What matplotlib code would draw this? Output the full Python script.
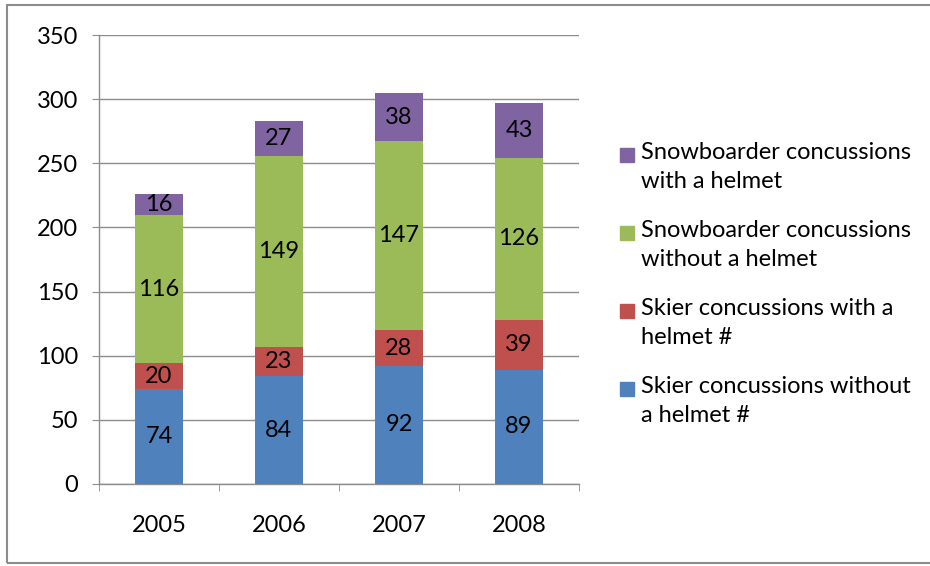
import matplotlib
matplotlib.use("Agg")
import matplotlib.pyplot as plt
from matplotlib.patches import Rectangle

# --- data ---
years = ["2005", "2006", "2007", "2008"]
skier_no_helmet = [74, 84, 92, 89]
skier_helmet = [20, 23, 28, 39]
snow_no_helmet = [116, 149, 147, 126]
snow_helmet = [16, 27, 38, 43]

series_names = [
    "Skier concussions without\na helmet #",
    "Skier concussions with a\nhelmet #",
    "Snowboarder concussions\nwithout a helmet",
    "Snowboarder concussions\nwith a helmet",
]
series_vals = [skier_no_helmet, skier_helmet, snow_no_helmet, snow_helmet]
colors = ["#4F81BD", "#C0504D", "#9BBB59", "#8064A2"]

plt.rcParams["font.family"] = ["Lato", "DejaVu Sans"]
FS = 17

fig = plt.figure(figsize=(9.3, 5.66), dpi=100)
ax = fig.add_axes([99 / 930, 1 - 484 / 566, 480 / 930, 449 / 566])

# outer frame
fig.patches.append(Rectangle((7 / 930, 3 / 566), 1.0, 558 / 566, transform=fig.transFigure,
                             fill=False, edgecolor="#8c8c8c", linewidth=1.5))

x = range(len(years))
bottoms = [0] * len(years)
for vals, c in zip(series_vals, colors):
    bars = ax.bar(x, vals, bottom=bottoms, width=0.4, color=c, zorder=3)
    for b, v, btm in zip(bars, vals, bottoms):
        ax.text(b.get_x() + b.get_width() / 2, btm + v / 2, str(v),
                ha="center", va="center", fontsize=FS, color="black", zorder=4)
    bottoms = [b + v for b, v in zip(bottoms, vals)]

ax.set_xlim(-0.5, 3.5)
ax.set_ylim(0, 350)
ax.set_yticks(range(0, 351, 50))
ax.set_xticks([i for i in x])
ax.set_xticklabels(years)
ax.set_xticks([-0.5, 0.5, 1.5, 2.5, 3.5], minor=True)
ax.tick_params(axis="x", which="major", length=0, pad=22, labelsize=FS)
ax.tick_params(axis="x", which="minor", length=5, color="#8c8c8c", direction="out")
ax.tick_params(axis="y", length=5, color="#8c8c8c", pad=10, labelsize=FS)

ax.grid(axis="y", color="#8c8c8c", linewidth=1, zorder=0)
for s in ["top", "right"]:
    ax.spines[s].set_visible(False)
for s in ["left", "bottom"]:
    ax.spines[s].set_color("#8c8c8c")
    ax.spines[s].set_linewidth(1)

# legend, drawn by hand so the swatch sits on the first line
legend_y = [155, 233, 311, 389]
for name, c, yy in zip(series_names[::-1], colors[::-1], legend_y):
    fig.patches.append(Rectangle((620 / 930, 1 - (yy + 7) / 566), 14 / 930, 14 / 566,
                                 transform=fig.transFigure, color=c))
    fig.text(641 / 930, 1 - (yy - 13) / 566, name, ha="left", va="top",
             fontsize=FS, linespacing=1.48)

fig.savefig("out.png", dpi=100)
